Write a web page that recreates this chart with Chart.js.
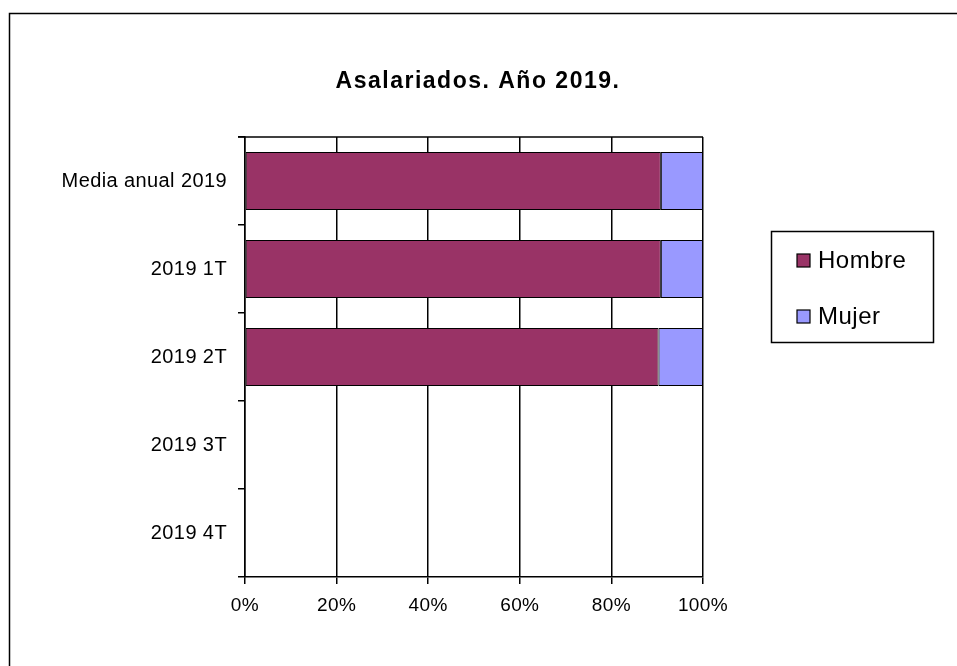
<!DOCTYPE html>
<html>
<head>
<meta charset="utf-8">
<script src="https://cdn.jsdelivr.net/npm/chart.js@4"></script>
<style>
  html, body { margin: 0; padding: 0; background: #fff; }
  #wrap { width: 957px; height: 666px; }
</style>
</head>
<body>
<div id="wrap"><canvas id="c"></canvas></div>
<script>
// datos (porcentaje sobre el total)
const categorias = ['Media anual 2019', '2019 1T', '2019 2T', '2019 3T', '2019 4T'];
const hombre = [90.8, 90.8, 90.3, null, null];
const mujer = [9.2, 9.2, 9.7, null, null];
const titulo = 'Asalariados. Año 2019.';

const FONT = '"Liberation Sans", Arial, sans-serif';

// marco, título, línea superior y leyenda
const extras = {
  id: 'extras',
  beforeDraw(chart) {
    chart.ctx.letterSpacing = '0.4px';
  },
  afterDraw(chart) {
    const ctx = chart.ctx;
    const a = chart.chartArea;
    ctx.save();
    // marco exterior
    ctx.strokeStyle = '#000';
    ctx.lineWidth = 1.5;
    ctx.strokeRect(9.5, 13.5, 1100, 1100);
    // línea superior del área
    ctx.beginPath();
    ctx.moveTo(a.left - 7, a.top);
    ctx.lineTo(a.right, a.top);
    ctx.stroke();
    // título
    ctx.fillStyle = '#000';
    ctx.font = 'bold 23px ' + FONT;
    ctx.letterSpacing = '1.5px';
    ctx.textAlign = 'center';
    ctx.textBaseline = 'middle';
    ctx.fillText(titulo, 478, 82);
    // leyenda
    ctx.letterSpacing = '0.5px';
    ctx.lineWidth = 1.5;
    ctx.strokeRect(771.5, 231.5, 162, 111);
    ctx.font = '24px ' + FONT;
    ctx.textAlign = 'left';
    chart.data.datasets.forEach((ds, i) => {
      const y = 261 + i * 56;
      ctx.fillStyle = ds.backgroundColor;
      ctx.fillRect(797, y - 7, 13, 13);
      ctx.lineWidth = 1.2;
      ctx.strokeRect(797, y - 7, 13, 13);
      ctx.fillStyle = '#000';
      ctx.fillText(ds.label, 818, y);
    });
    ctx.restore();
  }
};

new Chart(document.getElementById('c'), {
  type: 'bar',
  data: {
    labels: categorias,
    datasets: [
      {
        label: 'Hombre',
        data: hombre,
        backgroundColor: '#993366',
        borderColor: '#000',
        borderWidth: 1,
        borderSkipped: false,
        barPercentage: 0.66,
        categoryPercentage: 1,
      },
      {
        label: 'Mujer',
        data: mujer,
        backgroundColor: '#9999FF',
        borderColor: '#000',
        borderWidth: 1,
        borderSkipped: false,
        barPercentage: 0.66,
        categoryPercentage: 1,
      },
    ],
  },
  options: {
    indexAxis: 'y',
    responsive: true,
    maintainAspectRatio: false,
    animation: false,
    layout: { padding: { left: 0, top: 137, right: 254, bottom: 39 } },
    plugins: {
      legend: { display: false },
      title: { display: false },
      tooltip: { enabled: false },
    },
    scales: {
      x: {
        stacked: true,
        min: 0,
        max: 100,
        afterFit: s => { s.height = 50; },
        border: { color: '#000', width: 1.5 },
        grid: { color: '#000', lineWidth: 1.5, tickLength: 7 },
        ticks: {
          stepSize: 20,
          color: '#000',
          padding: 10,
          font: { family: FONT, size: 19 },
          callback: v => v + '%',
        },
      },
      y: {
        stacked: true,
        afterFit: s => { s.width = 245; },
        border: { color: '#000', width: 1.5 },
        grid: { color: '#000', lineWidth: 1.5, tickLength: 7, drawOnChartArea: false, offset: true },
        ticks: {
          color: '#000',
          padding: 11,
          font: { family: FONT, size: 20 },
        },
      },
    },
  },
  plugins: [extras],
});
</script>
</body>
</html>
